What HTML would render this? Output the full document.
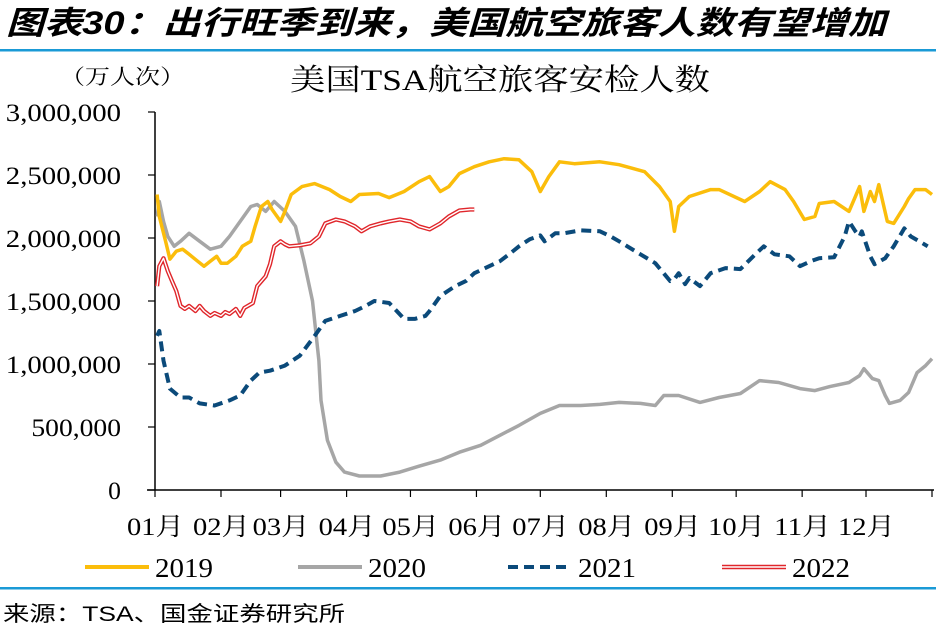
<!DOCTYPE html>
<html><head><meta charset="utf-8">
<style>
body{margin:0;background:#fff;}
#wrap{position:relative;width:936px;height:637px;overflow:hidden;background:#fff;}
</style></head>
<body>
<div id="wrap">
<svg id="chart" width="936" height="637" xmlns="http://www.w3.org/2000/svg">
  <text x="6" y="34" textLength="880" lengthAdjust="spacingAndGlyphs" font-family="'Liberation Sans','Noto Sans CJK SC',sans-serif" font-size="32" font-weight="bold" font-style="italic" fill="#000">图表30：出行旺季到来，美国航空旅客人数有望增加</text>
  <rect x="0" y="49" width="936" height="2.5" fill="#1a9ad6"/>
  <text x="60" y="84" textLength="125" lengthAdjust="spacingAndGlyphs" font-family="'Liberation Serif','Noto Serif CJK SC',serif" font-size="21" fill="#000">（万人次）</text>
  <text x="290" y="90" textLength="420" lengthAdjust="spacingAndGlyphs" font-family="'Liberation Serif','Noto Serif CJK SC',serif" font-size="30" fill="#000">美国TSA航空旅客安检人数</text>
  <g id="axes"></g>
  <g id="series"></g>
  <g id="legend"></g>
  <rect x="0" y="587" width="936" height="2.5" fill="#1a9ad6"/>
  <text x="3" y="621" textLength="342" lengthAdjust="spacingAndGlyphs" font-family="'Liberation Sans','Noto Sans CJK SC',sans-serif" font-size="21" fill="#000">来源：TSA、国金证券研究所</text>
</svg>
</div>
<script>
const yTicks = [0, 500000, 1000000, 1500000, 2000000, 2500000, 3000000];
const yTickLabels = ["0","500,000","1,000,000","1,500,000","2,000,000","2,500,000","3,000,000"];
const monthLabels = ["01月","02月","03月","04月","05月","06月","07月","08月","09月","10月","11月","12月"];
const monthStartDays = [0,31,59,90,120,151,181,212,243,273,304,334,365];
const seriesNames = ["2019","2020","2021","2022"];

const days2019 = [1,2,5,7,10,13,16,20,23,26,29,31,34,38,41,45,47,50,53,55,59,61,64,69,75,82,87,92,96,105,110,117,124,129,134,138,143,150,157,164,171,177,181,185,190,197,209,218,230,237,242,244,246,251,261,265,277,284,289,296,300,305,310,312,319,326,329,331,333,336,338,340,344,347,352,354,357,362,365];
const vals2019 = [2345,2171,1974,1832,1895,1911,1871,1816,1776,1816,1855,1800,1800,1855,1934,1974,2092,2250,2290,2226,2132,2211,2345,2408,2432,2384,2329,2290,2345,2353,2321,2369,2447,2487,2369,2408,2511,2566,2605,2629,2621,2526,2369,2487,2605,2590,2605,2582,2526,2408,2290,2053,2250,2329,2384,2384,2290,2369,2447,2384,2290,2147,2171,2274,2290,2211,2329,2408,2211,2369,2290,2424,2132,2116,2250,2313,2384,2384,2345];

const days2020 = [1,2,4,6,9,12,16,21,26,31,35,40,45,48,52,56,61,66,70,74,77,78,81,85,89,96,106,115,124,134,143,153,162,171,181,190,200,209,218,228,235,239,246,256,265,275,284,293,303,310,317,326,331,333,337,340,343,345,350,354,358,362,365];
const vals2020 = [2171,2290,2132,2013,1934,1974,2037,1974,1911,1934,2013,2132,2250,2266,2211,2290,2211,2092,1816,1500,1026,711,395,221,142,111,111,142,189,237,300,355,434,513,608,671,671,679,695,687,671,750,750,695,734,766,868,853,805,789,821,853,908,963,884,868,750,687,711,774,932,987,1042];

const days2021 = [1,2,4,7,12,16,21,28,35,40,45,49,54,61,68,75,80,87,94,99,103,110,117,122,127,129,134,141,146,150,157,162,167,171,176,181,183,188,192,200,209,214,218,228,235,242,244,246,249,251,256,261,268,275,282,286,291,298,303,308,312,319,324,326,329,331,332,336,338,343,347,352,355,359,363];
const vals2021 = [1224,1263,1026,805,734,734,687,671,711,750,868,932,947,987,1066,1224,1342,1382,1421,1461,1500,1484,1358,1358,1382,1421,1540,1618,1658,1721,1776,1816,1879,1934,1990,2021,1974,2037,2037,2061,2053,2013,1974,1871,1800,1658,1674,1721,1634,1682,1618,1721,1761,1753,1871,1934,1871,1855,1776,1816,1840,1847,2013,2132,2053,2013,2053,1855,1792,1840,1934,2076,2013,1974,1934];

const days2022 = [1,2,4,6,8,10,12,14,16,19,21,23,26,28,31,33,35,38,40,42,46,48,52,54,56,59,61,63,68,73,77,80,85,89,94,97,101,106,110,115,120,124,129,134,138,143,148,150];
const vals2022 = [1618,1776,1840,1737,1658,1579,1461,1437,1461,1421,1461,1421,1382,1405,1382,1413,1397,1437,1382,1445,1484,1618,1697,1792,1934,1974,1950,1934,1942,1958,2013,2116,2147,2132,2092,2053,2092,2116,2132,2147,2132,2092,2068,2116,2171,2218,2226,2226];

const NS = "http://www.w3.org/2000/svg";
const X0 = 155, X1 = 932, Y0 = 490, Y1 = 112;
function xScale(day){ return X0 + day/365*(X1-X0); }
function yScale(v){ return Y0 - v/3000000*(Y0-Y1); }
function mk(tag, attrs, parent){
  const e = document.createElementNS(NS, tag);
  for (const k in attrs) e.setAttribute(k, attrs[k]);
  parent.appendChild(e); return e;
}
const axes = document.getElementById('axes');
const serif = "'Liberation Serif','Noto Serif CJK SC',serif";

const yAxis = mk('line',{x1:X0,y1:Y1,x2:X0,y2:Y0,stroke:'#000','stroke-width':1.5},axes);


const xAxis = mk('line',{x1:X0-8,y1:Y0,x2:X1+2,y2:Y0,stroke:'#000','stroke-width':1.5},axes);



yTicks.forEach((v,i)=>{
  const y = yScale(v);
  const t = mk('line',{x1:X0-7,y1:y,x2:X0,y2:y,stroke:'#000','stroke-width':1.2},axes);
  
  
  const s = yTickLabels[i];
  const w = s.length*12.8;
  const lb = mk('text',{x:121-w,y:y+9,textLength:w,lengthAdjust:'spacingAndGlyphs','font-family':serif,'font-size':25,fill:'#000'},axes);
  lb.textContent = s;
  
  
});
monthStartDays.forEach((d,i)=>{
  const x = xScale(d);
  const t = mk('line',{x1:x,y1:Y0,x2:x,y2:Y0+7,stroke:'#000','stroke-width':1.2},axes);
  
  
  if (i < monthLabels.length){
    const lb = mk('text',{x:x-28,y:535,textLength:57,lengthAdjust:'spacingAndGlyphs','font-family':serif,'font-size':25,fill:'#000'},axes);
    lb.textContent = monthLabels[i];
    
    
  }
});

const series = document.getElementById('series');
function pathD(days, vals){
  return days.map((d,i)=>(i?'L':'M')+xScale(d).toFixed(1)+','+yScale(vals[i]*1000).toFixed(1)).join(' ');
}
const p20 = mk('path',{d:pathD(days2020,vals2020),fill:'none',stroke:'#a6a6a6','stroke-width':3.5,'stroke-linejoin':'round'},series);


const p21 = mk('path',{d:pathD(days2021,vals2021),fill:'none',stroke:'#0b4a7a','stroke-width':4,'stroke-dasharray':'10,6','stroke-linejoin':'round'},series);


const p19 = mk('path',{d:pathD(days2019,vals2019),fill:'none',stroke:'#fbbd0b','stroke-width':3.5,'stroke-linejoin':'round'},series);


const p22o = mk('path',{d:pathD(days2022,vals2022),fill:'none',stroke:'#e0262b','stroke-width':4.2,'stroke-linejoin':'round'},series);


const p22i = mk('path',{d:pathD(days2022,vals2022),fill:'none',stroke:'#fff','stroke-width':1.4,'stroke-linejoin':'round'},series);



const legend = document.getElementById('legend');
const legX = [85, 298, 508, 722];
const legStyles = [
  {stroke:'#fbbd0b','stroke-width':4},
  {stroke:'#a6a6a6','stroke-width':4},
  {stroke:'#0b4a7a','stroke-width':4,'stroke-dasharray':'10,6'},
  {stroke:'#e0262b','stroke-width':4.5}
];
seriesNames.forEach((n,i)=>{
  const g = mk('g',{},legend);
  
  
  const a = Object.assign({x1:legX[i],y1:567,x2:legX[i]+64,y2:567},legStyles[i]);
  mk('line',a,g);
  if (i===3) mk('line',{x1:legX[i],y1:567,x2:legX[i]+64,y2:567,stroke:'#fff','stroke-width':1.6},g);
  const t = mk('text',{x:legX[i]+70,y:577,textLength:58,lengthAdjust:'spacingAndGlyphs','font-family':serif,'font-size':27,fill:'#000'},g);
  t.textContent = n;
});
</script>
</body></html>
